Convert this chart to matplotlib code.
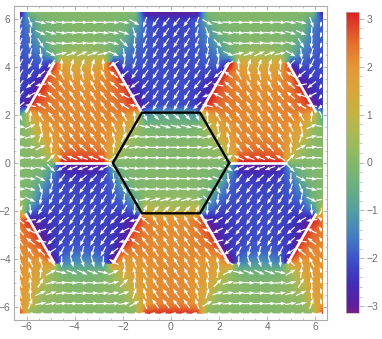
"""Phase of the lattice sum over the k-plane: density, arrows and zone outline."""
import matplotlib
matplotlib.use("Agg")
import matplotlib.pyplot as plt
import numpy as np
from matplotlib.colors import LinearSegmentedColormap, Normalize
from matplotlib.path import Path
from matplotlib.transforms import Bbox, TransformedBbox

W, H = 382, 339
L = 6.283
HEX_R = 2.418

# arrow directions in degrees, upper right quadrant
# rows run y = 6.28 down to 0.22, columns x = 0.22 to 6.28; the rest is mirrored
phase_deg = [
    [-175, -175, -172, -2, 0, 0, 0, 0, 0, 0, 0, 0, -1, -2, -175],
    [-128, -125, -108, -30, -9, -4, -2, -1, -1, -2, -4, -9, -12, -70, -112],
    [-124, -122, -105, -72, -18, -9, -5, -3, -3, -4, -8, -16, -25, -92, -110],
    [-122, -120, -110, -90, -45, -14, -3, 3, 5, 3, -3, -13, -58, -95, -112],
    [-122, -120, -114, -103, -82, -25, 12, 20, 24, 20, 12, -30, -85, -105, -116],
    [-121, -120, -116, -110, -100, -150, 92, 74, 70, 74, 90, -135, -108, -116, -120],
    [-120, -122, -125, -125, -140, 142, 118, 106, 104, 106, 118, 147, -140, -125, -122],
    [-120, -122, -128, -142, 168, 138, 125, 118, 116, 118, 125, 138, -170, -142, -125],
    [-120, -122, -132, -160, 153, 138, 128, 122, 120, 122, 128, 138, 162, -152, -130],
    [-119, -120, -138, 168, 148, 133, 126, 122, 121, 122, 126, 134, 150, 172, -140],
    [-42, -46, -65, 95, 120, 127, 124, 122, 121, 122, 124, 127, 120, 85, -60],
    [-16, -15, -12, 40, 96, 114, 122, 122, 122, 122, 122, 115, 100, 25, -10],
    [-4, -3, 0, 12, 62, 106, 122, 125, 126, 125, 122, 106, 70, 14, 1],
    [-1, 0, 3, 8, 22, 86, 126, 134, 138, 134, 126, 92, 28, 7, 2],
    [0, 1, 2, 4, 8, 35, 155, 160, 162, 160, 150, 45, 10, 3, 1],
]

# hexagonal tiles seen in the picture
orange_x = [-3.63, 3.63, 0.0, -7.26, 7.26]
orange_y = [2.095, 2.095, -4.19, -4.19, -4.19]
blue_x = [-3.63, 3.63, 0.0, -7.26, 7.26]
blue_y = [-2.095, -2.095, 4.19, 4.19, 4.19]

tick_vals = [-6, -4, -2, 0, 2, 4, 6]
bar_ticks = [-3, -2, -1, 0, 1, 2, 3]

# colour legend, value -> colour
bar_vals = [-np.pi, -3.0, -2.5, -2.0, -1.5, -1.0, -0.5, 0.0, 0.5, 1.0, 1.5, 2.0, 2.5, 3.0, np.pi]
bar_cols = ["#7A1C86", "#5E1E9E", "#3F2FB8", "#3E53C8", "#4580C0", "#559FA0", "#6AAF80",
            "#83B86B", "#A3BA5A", "#C2B344", "#D8A63B", "#E39735", "#E46D2D", "#DB3226", "#D92120"]

GREY = "#6e6e6e"
FRAME = "#ababab"


def _hex(cx, cy):
    ang = np.deg2rad(np.arange(0, 360, 60))
    return np.column_stack([cx + HEX_R * np.cos(ang), cy + HEX_R * np.sin(ang)])


def _compound(xs, ys):
    paths = [Path(np.vstack([_hex(x, y), _hex(x, y)[:1]]), closed=True) for x, y in zip(xs, ys)]
    return Path.make_compound_path(*paths)


def _shared_edges():
    # white lines sit where an orange tile meets a blue one
    edges = []
    for ox, oy in zip(orange_x, orange_y):
        for bx, by in zip(blue_x, blue_y):
            common = [p for p in _hex(ox, oy) if np.min(np.hypot(*(_hex(bx, by) - p).T)) < 0.03]
            if len(common) == 2:
                edges.append(common)
    return edges


def _style_axis(ax):
    for s in ax.spines.values():
        s.set_color(FRAME)
        s.set_linewidth(0.8)
    ax.set_xticks(tick_vals)
    ax.set_yticks(tick_vals)
    ax.set_xticks(np.arange(-6, 6.5, 0.5), minor=True)
    ax.set_yticks(np.arange(-6, 6.5, 0.5), minor=True)
    ax.tick_params(which="major", direction="in", length=3.2, width=0.6, color=FRAME, top=True, right=True,
                   labelsize=7.4, labelcolor=GREY, pad=2)
    ax.tick_params(which="minor", direction="in", length=1.6, width=0.5, color=FRAME, top=True, right=True)


def main():
    plt.rcParams["font.family"] = "Liberation Sans"
    cmap = LinearSegmentedColormap.from_list(
        "rainbow", [((v + np.pi) / (2 * np.pi), c) for v, c in zip(bar_vals, bar_cols)], N=512)
    norm = Normalize(-np.pi, np.pi)

    quad = np.array(phase_deg, dtype=float)
    upper = np.hstack([quad[:, ::-1], quad])
    full = np.vstack([upper, -upper[::-1]])
    n = full.shape[0]
    nodes = np.linspace(-L, L, n)
    step = nodes[1] - nodes[0]
    extent = [-L - step / 2, L + step / 2, -L - step / 2, L + step / 2]

    fig = plt.figure(figsize=(W / 100, H / 100), dpi=100)
    ax = fig.add_axes([13.5 / W, 1 - 319.7 / H, (327 - 13.5) / W, (319.7 - 6) / H])
    box = TransformedBbox(Bbox([[-L, -L], [L, L]]), ax.transData)

    # the phase jumps between orange and blue tiles, so each gets its own unwrapped layer
    pos = np.where(full < -90, full + 360, full)
    neg = np.where(full > 90, full - 360, full)
    layers = [(full, None), (pos, _compound(orange_x, orange_y)), (neg, _compound(blue_x, blue_y))]
    for vals, clip in layers:
        im = ax.imshow(np.deg2rad(vals), extent=extent, origin="upper", cmap=cmap, norm=norm,
                       interpolation="bilinear", interpolation_stage="data", aspect="auto", zorder=1)
        if clip is not None:
            im.set_clip_path(clip, transform=ax.transData)
        im.set_clip_box(box)
    ax.set_xlim(-6.55, 6.49)
    ax.set_ylim(-6.52, 6.53)

    # top row of arrows does not show in the picture
    xx, yy = np.meshgrid(nodes, nodes[::-1])
    th = np.deg2rad(full)
    q = ax.quiver(xx[1:], yy[1:], 0.47 * np.cos(th[1:]), 0.47 * np.sin(th[1:]), color="white",
                  angles="xy", scale_units="xy", scale=1, units="xy", width=0.05, pivot="mid",
                  headwidth=3.3, headlength=4.6, headaxislength=4.0, zorder=3)
    q.set_clip_box(box)

    for (a, b) in _shared_edges():
        ax.plot([a[0], b[0]], [a[1], b[1]], color="white", lw=1.9, solid_capstyle="butt", zorder=4)

    outline = np.vstack([_hex(0, 0), _hex(0, 0)[:1]])
    ax.plot(outline[:, 0], outline[:, 1], color="black", lw=1.7, solid_joinstyle="miter", zorder=5)
    _style_axis(ax)

    cax = fig.add_axes([345.5 / W, 1 - 313 / H, 13.5 / W, 301 / H])
    cb = fig.colorbar(plt.cm.ScalarMappable(norm=norm, cmap=cmap), cax=cax, ticks=bar_ticks)
    cb.outline.set_edgecolor("#bbbbbb")
    cb.outline.set_linewidth(0.5)
    cb.ax.set_yticks(np.arange(-3, 3.1, 0.2), minor=True)
    cb.ax.tick_params(which="major", length=3.5, width=0.6, color=FRAME, labelsize=7.4, labelcolor=GREY, pad=2)
    cb.ax.tick_params(which="minor", length=1.8, width=0.5, color=FRAME)

    fig.savefig("out.png", dpi=100)


if __name__ == "__main__":
    main()
